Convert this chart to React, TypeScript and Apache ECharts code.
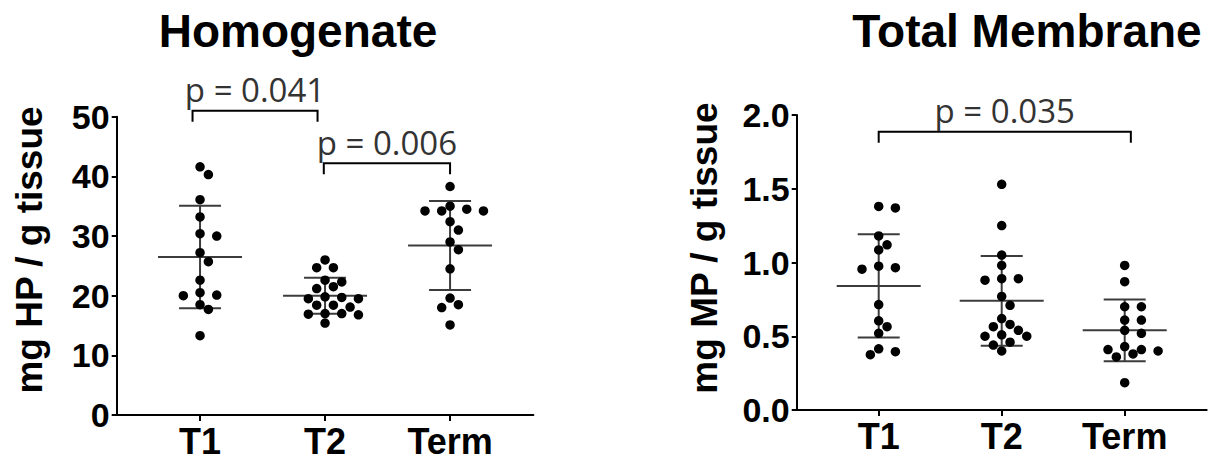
import React, { useEffect, useRef } from 'react';
import * as echarts from 'echarts';

// ---------------- DATA ----------------
const categories = ['T1', 'T2', 'Term'];

// Homogenate: mg HP / g tissue
const hpT1 = [41.6, 40.3, 36.1, 33.2, 30.4, 30.0, 27.2, 25.7, 22.6, 20.5, 20.1, 20.0, 18.5, 17.7, 13.3];
const hpT2 = [26.0, 24.7, 24.7, 22.6, 22.3, 21.5, 21.2, 19.8, 19.7, 19.5, 19.5, 18.4, 18.4, 18.1, 17.0, 17.0, 16.9, 16.8, 15.4];
const hpTerm = [38.3, 35.0, 34.5, 34.2, 34.2, 34.2, 32.4, 31.0, 29.0, 27.7, 24.5, 19.6, 18.5, 18.0, 15.1];

// Total Membrane: mg MP / g tissue
const mpT1 = [1.38, 1.37, 1.18, 1.12, 1.085, 0.975, 0.965, 0.955, 0.715, 0.605, 0.565, 0.52, 0.415, 0.395, 0.375];
const mpT2 = [1.53, 1.25, 1.05, 0.98, 0.89, 0.88, 0.89, 0.77, 0.71, 0.62, 0.58, 0.565, 0.54, 0.51, 0.5, 0.5, 0.46, 0.44, 0.4];
const mpTerm = [0.98, 0.87, 0.7, 0.7, 0.61, 0.61, 0.54, 0.52, 0.43, 0.41, 0.41, 0.4, 0.38, 0.36, 0.185];

// y-axis ranges / ticks
const hpAxis = { min: 0, max: 50, interval: 10 };
const mpAxis = { min: 0, max: 2, interval: 0.5 };

// significance comparisons (bracket between group positions, at a value level)
const hpComparisons = [
  { from: -0.06, to: 0.94, level: 51.0, label: 'p = 0.041' },
  { from: 0.99, to: 2.0, level: 42.2, label: 'p = 0.006' },
];
const mpComparisons = [{ from: 0, to: 2.05, level: 1.887, label: 'p = 0.035' }];

// ---------------- HELPERS ----------------
const FONT = '"Liberation Sans", Arial, Helvetica, sans-serif';
const PFONT = '"Open Sans", "Noto Sans", sans-serif';

function mean(a: number[]) {
  return a.reduce((s, v) => s + v, 0) / a.length;
}
function sd(a: number[]) {
  const m = mean(a);
  return Math.sqrt(a.reduce((s, v) => s + (v - m) * (v - m), 0) / (a.length - 1));
}

// beeswarm offsets in pixels (collision based)
function swarm(values: number[], pxPerY: number, step = 8.35, d = 9.2) {
  const idx = values.map((_, i) => i).sort((a, b) => values[b] - values[a]);
  const placed: { x: number; y: number }[] = [];
  const off = new Array(values.length).fill(0);
  for (const i of idx) {
    const y = values[i] * pxPerY;
    for (let k = 0; k < 60; k++) {
      const m = k === 0 ? 0 : k % 2 === 1 ? Math.ceil(k / 2) : -Math.ceil(k / 2);
      const x = m * step;
      if (placed.every((p) => Math.hypot(p.x - x, p.y - y) >= d)) {
        off[i] = x;
        placed.push({ x, y });
        break;
      }
    }
  }
  return off;
}

const X_MIN = -2 / 3;
const X_MAX = 8 / 3;

export default function App() {
  const ref = useRef<HTMLDivElement>(null);

  useEffect(() => {
    if (!ref.current) return;
    const chart = echarts.init(ref.current, undefined, { renderer: 'svg' });

    const panels = [
      {
        grid: { left: 116.7, top: 116.7, width: 416.7, height: 298.3 },
        axis: hpAxis,
        groups: [hpT1, hpT2, hpTerm],
        comps: hpComparisons,
        fmt: (v: number) => String(v),
      },
      {
        grid: { left: 796.7, top: 115, width: 410, height: 295 },
        axis: mpAxis,
        groups: [mpT1, mpT2, mpTerm],
        comps: mpComparisons,
        fmt: (v: number) => v.toFixed(1),
      },
    ];

    const grid: any[] = [];
    const xAxis: any[] = [];
    const yAxis: any[] = [];
    const series: any[] = [];

    panels.forEach((p, pi) => {
      grid.push({ ...p.grid, containLabel: false });
      xAxis.push({
        type: 'value',
        gridIndex: pi,
        min: X_MIN,
        max: X_MAX,
        splitLine: { show: false },
        axisLine: { show: true, onZero: false, lineStyle: { color: '#000', width: 2 } },
        axisTick: { show: true, customValues: [0, 1, 2], length: 6, lineStyle: { color: '#000', width: 2 } },
        axisLabel: {
          customValues: [0, 1, 2],
          formatter: (v: number) => categories[Math.round(v)] ?? '',
          fontSize: 36,
          fontWeight: 'bold',
          fontFamily: FONT,
          color: '#000',
          margin: 8,
        },
      });
      yAxis.push({
        type: 'value',
        gridIndex: pi,
        min: p.axis.min,
        max: p.axis.max,
        interval: p.axis.interval,
        splitLine: { show: false },
        axisLine: { show: true, onZero: false, lineStyle: { color: '#000', width: 2 } },
        axisTick: { show: true, length: 5, lineStyle: { color: '#000', width: 2 } },
        axisLabel: {
          formatter: p.fmt,
          fontSize: 34,
          fontWeight: 'bold',
          fontFamily: FONT,
          color: '#000',
          margin: 7,
        },
      });

      const pxPerY = p.grid.height / (p.axis.max - p.axis.min);
      const pxPerX = p.grid.width / (X_MAX - X_MIN);

      // mean ± SD
      series.push({
        type: 'custom',
        xAxisIndex: pi,
        yAxisIndex: pi,
        z: 2,
        silent: true,
        data: p.groups.map((g, gi) => [gi, mean(g), sd(g)]),
        encode: { x: 0, y: 1 },
        renderItem: (params: any, api: any) => {
          const x = api.value(0);
          const m = api.value(1);
          const s = api.value(2);
          const c = api.coord([x, m]);
          const t = api.coord([x, m + s]);
          const b = api.coord([x, m - s]);
          const style = { stroke: '#3c3c3c', lineWidth: 2, fill: null };
          return {
            type: 'group',
            children: [
              { type: 'line', shape: { x1: c[0] - 42, y1: c[1], x2: c[0] + 42, y2: c[1] }, style },
              { type: 'line', shape: { x1: t[0] - 21, y1: t[1], x2: t[0] + 21, y2: t[1] }, style },
              { type: 'line', shape: { x1: b[0] - 21, y1: b[1], x2: b[0] + 21, y2: b[1] }, style },
              { type: 'line', shape: { x1: c[0], y1: t[1], x2: c[0], y2: b[1] }, style },
            ],
          };
        },
      });

      // dots
      p.groups.forEach((g, gi) => {
        const offs = swarm(g, pxPerY);
        series.push({
          type: 'scatter',
          name: categories[gi],
          xAxisIndex: pi,
          yAxisIndex: pi,
          z: 3,
          symbol: 'circle',
          symbolSize: 9.5,
          itemStyle: { color: '#000', opacity: 1 },
          data: g.map((v, i) => [gi + offs[i] / pxPerX, v]),
        });
      });

      // brackets + p values
      series.push({
        type: 'custom',
        xAxisIndex: pi,
        yAxisIndex: pi,
        z: 4,
        clip: false,
        silent: true,
        data: p.comps.map((c) => [c.from, c.to, c.level]),
        encode: { x: [0, 1], y: 2 },
        renderItem: (params: any, api: any) => {
          const comp = p.comps[params.dataIndex];
          const a = api.coord([api.value(0), api.value(2)]);
          const b = api.coord([api.value(1), api.value(2)]);
          return {
            type: 'group',
            children: [
              {
                type: 'polyline',
                shape: { points: [[a[0], a[1] + 11], [a[0], a[1]], [b[0], b[1]], [b[0], b[1] + 11]] },
                style: { stroke: '#000', lineWidth: 2, fill: null },
              },
              {
                type: 'text',
                x: (a[0] + b[0]) / 2,
                y: a[1] - 21,
                style: {
                  text: comp.label,
                  font: `33px ${PFONT}`,
                  fill: '#333',
                  align: 'center',
                  verticalAlign: 'middle',
                  textAlign: 'center',
                  textVerticalAlign: 'middle',
                },
              },
            ],
          };
        },
      });
    });

    const titleStyle = (text: string) => ({
      text,
      font: `bold 46px ${FONT}`,
      fill: '#000',
      align: 'center',
      verticalAlign: 'middle',
      textAlign: 'center',
      textVerticalAlign: 'middle',
    });
    const yNameStyle = (text: string) => ({
      text,
      font: `bold 37px ${FONT}`,
      fill: '#000',
      align: 'center',
      verticalAlign: 'middle',
      textAlign: 'center',
      textVerticalAlign: 'middle',
    });

    chart.setOption({
      animation: false,
      backgroundColor: '#fff',
      grid,
      xAxis,
      yAxis,
      series,
      graphic: [
        { type: 'text', x: 298, y: 31, style: titleStyle('Homogenate') },
        { type: 'text', x: 1027, y: 31, style: titleStyle('Total Membrane') },
        { type: 'text', x: 29, y: 250, rotation: Math.PI / 2, style: yNameStyle('mg HP / g tissue') },
        { type: 'text', x: 704, y: 248, rotation: Math.PI / 2, style: yNameStyle('mg MP / g tissue') },
      ],
    });

    return () => chart.dispose();
  }, []);

  return (
    <div
      ref={ref}
      style={{ position: 'absolute', left: 0, top: 0, width: 1212, height: 463 }}
    />
  );
}
